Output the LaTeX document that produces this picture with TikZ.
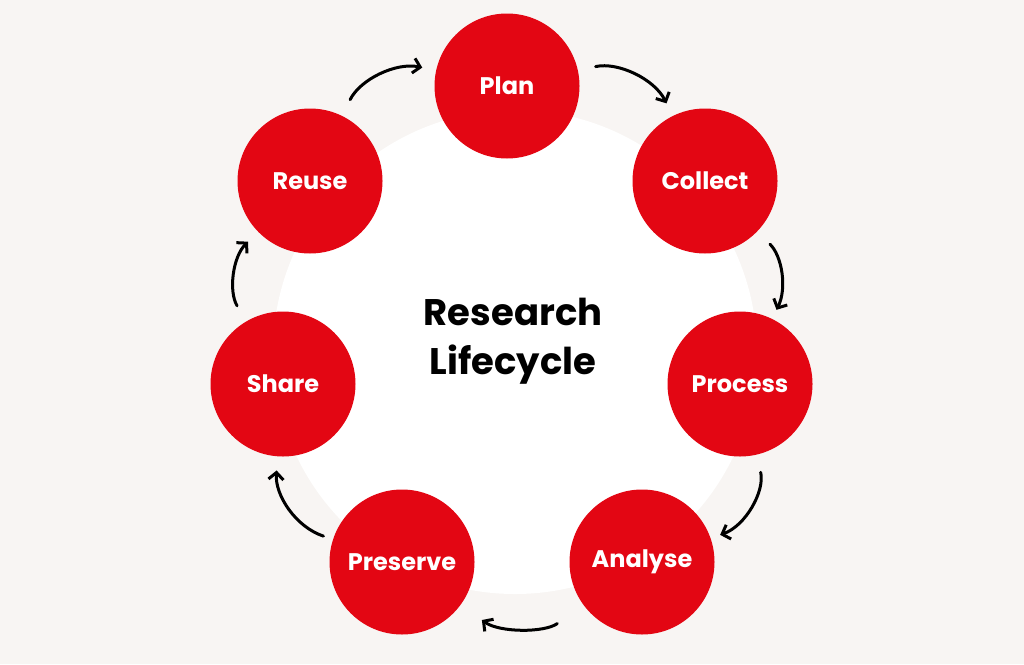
\documentclass[tikz,border=0pt]{standalone}
\usepackage{fontspec}
\setmainfont{Poppins}
\usepackage{xcolor}
\usepackage{tikz}
\usetikzlibrary{arrows.meta}
\definecolor{bgc}{RGB}{248,245,243}
\definecolor{mred}{RGB}{227,6,19}
\begin{document}
\begin{tikzpicture}[x=1pt, y=-1pt,
    main/.style = {circle, fill=mred, minimum size=145pt, inner sep=0pt, text=white, font=\bfseries\fontsize{24}{28}\selectfont},
    arr/.style = {line width=3pt, line cap=round, -{Straight Barb[length=7pt,width=15pt,line width=3pt]}, shorten <=18pt, shorten >=14pt}] 
      \fill[bgc] (0,0) rectangle (1024,664);
      \useasboundingbox (0,0) rectangle (1024,664);
      \fill[white] (515,352) circle (242);

      \node[font=\bfseries\fontsize{37}{49}\selectfont, align=center, text=black] (0) at (513,341) {Research\\Lifecycle};

      \node[main] (1) at (507,86) {Plan};
      \node[main] (2) at (705,181) {Collect};
      \node[main] (3) at (740,384) {Process};
      \node[main] (4) at (642,562) {Analyse};
      \node[main] (5) at (402,562) {Preserve};
      \node[main] (6) at (283,384) {Share};
      \node[main] (7) at (310,181) {Reuse};

      \draw[arr] (7) to[bend left=38] (1);
      \draw[arr] (1) to[bend left=38] (2);
      \draw[arr, shorten >=10pt] (2) to[bend left=36] (3);
      \draw[arr, shorten >=10pt] (3) to[bend left=42] (4);
      \draw[arr, shorten <=32pt, shorten >=26pt] (4) to[bend left=36] (5);
      \draw[arr, shorten <=10pt] (5) to[bend left=38] (6);
      \draw[arr] (6) to[bend left=38] (7);
    \end{tikzpicture}
\end{document}
